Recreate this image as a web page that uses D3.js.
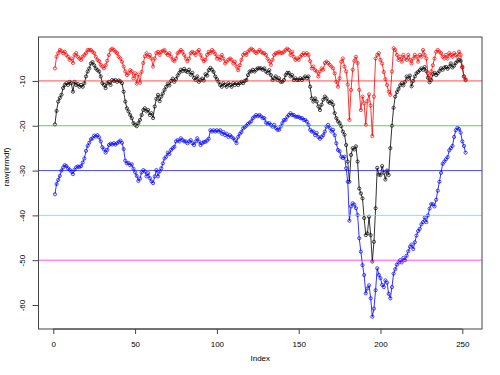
<!DOCTYPE html>
<meta charset="utf-8">
<style>
body{ margin: 0px; background: white; }
svg{ display: block; }
text{ font-family: "Liberation Sans", Arial, sans-serif; font-size: 8px; fill: #000; }
.box{ fill: none; stroke: #444; stroke-width: 1; }
.axis path, .axis line{ stroke: #444; }
</style>
<body>
<div id='chart'></div>
<script src="https://cdn.jsdelivr.net/npm/d3@7"></script>
<script>

var blackSeries = [
  -19.7, -16.7, -14.6, -13.8, -13.1, -11.6, -10.9, -10.5, -10.9, -10.2,
  -10.5, -12.4, -10.2, -10.9, -10.7, -11.3, -10.9, -11.3, -10.5, -9.0,
  -7.9, -7.2, -6.1, -5.8, -6.5, -7.2, -7.6, -7.9, -9.0, -10.5,
  -10.9, -11.6, -10.5, -10.2, -10.9, -9.8, -10.0, -9.8, -10.2, -9.9,
  -10.1, -10.5, -12.4, -14.6, -16.1, -16.8, -17.6, -18.3, -19.4, -19.8,
  -20.1, -19.4, -18.7, -17.6, -16.5, -16.1, -16.8, -16.5, -17.6, -17.2,
  -18.3, -15.7, -14.0, -13.1, -14.5, -13.5, -12.8, -12.0, -11.3, -10.6,
  -11.0, -10.0, -9.5, -10.2, -9.6, -8.8, -8.2, -7.5, -7.8, -7.3,
  -7.8, -8.0, -7.5, -8.6, -8.2, -9.3, -9.8, -9.0, -10.2, -9.8,
  -9.5, -9.9, -8.5, -8.8, -7.6, -7.1, -7.5, -8.0, -9.0, -9.6,
  -10.2, -10.9, -11.3, -10.5, -10.9, -11.3, -10.5, -10.9, -11.3, -10.5,
  -10.9, -10.5, -10.9, -10.5, -10.2, -10.5, -10.0, -9.8, -8.7, -7.9,
  -7.9, -7.5, -7.9, -7.5, -7.2, -7.2, -7.2, -7.5, -7.2, -7.9,
  -8.2, -7.6, -8.7, -9.8, -9.4, -9.0, -9.8, -9.4, -10.2, -10.2,
  -9.8, -8.7, -8.2, -8.2, -9.0, -8.7, -9.8, -9.4, -9.8, -9.8,
  -9.4, -9.8, -9.4, -9.0, -9.4, -9.0, -11.3, -13.9, -14.6, -13.9,
  -14.6, -15.7, -16.5, -15.3, -14.2, -13.5, -13.9, -14.6, -14.9, -14.6,
  -15.3, -17.2, -18.3, -19.0, -19.4, -20.1, -21.3, -22.0, -24.3, -28.0,
  -32.5, -26.5, -25.0, -25.3, -24.6, -28.0, -34.0, -35.1, -36.2, -40.6,
  -44.4, -44.0, -40.3, -44.4, -50.3, -45.9, -38.4, -29.4, -30.9, -31.0,
  -29.0, -30.5, -32.0, -30.0, -31.0, -25.0, -20.0, -16.0, -13.5, -12.5,
  -11.8, -11.0, -10.5, -11.0, -10.2, -9.0, -9.5, -8.8, -11.2, -10.0,
  -9.0, -8.3, -8.0, -7.6, -7.2, -7.5, -6.9, -7.8, -9.3, -10.3,
  -9.8, -8.5, -8.2, -8.7, -8.3, -7.8, -7.2, -7.5, -7.0, -6.9,
  -7.3, -6.8, -6.1, -7.0, -6.6, -6.0, -5.6, -5.3, -5.5, -7.0,
  -9.0, -9.8
]

var redSeries = [
  -7.2, -4.6, -3.8, -3.1, -3.3, -3.8, -3.5, -4.2, -4.6, -5.3,
  -5.0, -6.0, -4.2, -3.8, -4.6, -5.0, -5.3, -4.6, -4.2, -3.8,
  -3.1, -3.1, -3.1, -3.5, -3.8, -4.6, -5.3, -5.6, -6.4, -6.8,
  -7.2, -6.5, -5.5, -4.2, -3.1, -2.8, -3.1, -3.5, -3.8, -4.6,
  -5.0, -5.7, -6.8, -7.9, -8.7, -8.3, -7.6, -7.9, -9.4, -8.3,
  -10.6, -8.6, -10.4, -8.0, -6.0, -4.5, -3.8, -4.6, -4.2, -5.0,
  -6.8, -5.0, -3.8, -3.5, -4.2, -3.5, -3.3, -3.1, -3.8, -4.2,
  -3.8, -4.6, -5.3, -5.6, -5.0, -3.8, -3.5, -3.1, -3.5, -4.2,
  -5.0, -5.6, -5.0, -3.8, -3.5, -3.8, -4.2, -3.5, -3.1, -4.2,
  -5.0, -5.6, -5.3, -4.2, -3.5, -3.8, -3.1, -3.5, -4.0, -5.0,
  -4.6, -5.3, -4.2, -5.0, -6.1, -5.7, -5.3, -5.0, -5.3, -6.1,
  -5.7, -6.8, -7.6, -6.5, -5.3, -4.2, -3.8, -4.2, -3.5, -3.1,
  -2.8, -3.1, -3.5, -3.8, -3.5, -3.1, -3.5, -3.8, -3.8, -4.2,
  -5.0, -5.6, -6.4, -5.3, -4.2, -3.8, -3.8, -3.5, -3.8, -3.8,
  -3.5, -3.1, -2.8, -3.1, -4.2, -3.5, -4.6, -5.3, -5.0, -5.3,
  -4.6, -4.2, -3.8, -4.2, -3.8, -4.2, -5.6, -7.2, -6.8, -7.6,
  -7.9, -9.0, -7.9, -7.2, -7.5, -6.0, -5.7, -6.0, -6.4, -6.8,
  -7.2, -8.3, -10.2, -11.3, -9.4, -5.7, -5.0, -6.8, -7.9, -10.8,
  -18.7, -12.0, -7.5, -5.5, -4.6, -6.0, -12.0, -16.5, -13.5, -15.0,
  -19.8, -14.5, -13.0, -15.5, -22.3, -13.5, -5.0, -4.2, -3.8, -5.3,
  -6.1, -8.0, -9.6, -10.9, -12.4, -13.1, -7.9, -2.7, -3.1, -4.2,
  -5.3, -4.6, -5.7, -4.2, -5.0, -5.3, -4.2, -5.3, -6.1, -5.0,
  -4.2, -4.6, -5.7, -4.2, -4.6, -3.1, -4.2, -5.0, -8.3, -9.4,
  -7.9, -6.5, -5.0, -3.5, -3.1, -3.5, -3.8, -4.6, -5.0, -4.2,
  -5.0, -3.8, -4.2, -4.6, -3.8, -4.2, -4.6, -3.5, -4.2, -6.8,
  -9.0, -9.6
]

var blueSeries = [
  -35.3, -33.0, -32.1, -31.2, -30.0, -29.3, -28.8, -29.0, -29.5, -29.8,
  -30.2, -30.8, -29.8, -29.3, -29.1, -29.2, -29.0, -28.2, -27.3, -25.6,
  -24.5, -23.8, -23.0, -22.8, -22.2, -22.4, -22.1, -22.6, -23.5, -24.8,
  -25.3, -26.0, -25.4, -24.3, -24.0, -24.2, -23.9, -24.2, -23.9, -23.6,
  -23.3, -23.8, -25.2, -27.8, -28.4, -28.3, -28.8, -28.6, -29.6, -30.4,
  -31.2, -32.3, -31.8, -30.4, -29.9, -30.2, -31.3, -30.6, -31.7, -32.4,
  -32.8, -31.3, -29.9, -31.3, -30.2, -29.5, -28.4, -27.3, -26.9, -26.0,
  -26.3, -25.4, -25.0, -24.7, -23.5, -23.2, -23.5, -22.8, -23.2, -23.5,
  -23.5, -23.9, -23.5, -23.2, -23.9, -24.3, -23.5, -22.8, -23.5, -24.3,
  -23.9, -23.6, -23.6, -23.3, -22.9, -21.0, -21.3, -21.0, -21.3, -21.0,
  -21.3, -21.0, -21.8, -21.4, -22.1, -21.8, -22.5, -22.1, -22.5, -22.8,
  -23.2, -23.9, -22.5, -21.8, -21.4, -20.6, -20.3, -20.0, -19.6, -19.3,
  -19.0, -18.3, -18.0, -17.6, -17.9, -17.6, -17.9, -18.3, -18.3, -19.3,
  -19.6, -19.4, -19.8, -20.2, -19.8, -20.5, -20.9, -20.9, -20.2, -19.4,
  -18.7, -18.7, -18.0, -17.6, -17.2, -17.6, -17.6, -18.0, -18.0, -18.0,
  -18.3, -18.3, -18.7, -18.7, -19.1, -19.8, -20.9, -21.3, -21.3, -22.1,
  -21.6, -22.5, -22.9, -22.5, -22.1, -21.3, -20.2, -19.8, -20.5, -21.3,
  -20.9, -22.1, -23.9, -25.4, -25.7, -26.9, -27.2, -26.9, -29.5, -32.5,
  -41.2, -38.0, -37.3, -37.6, -38.4, -39.9, -45.1, -48.1, -51.1, -53.3,
  -57.4, -56.3, -55.6, -58.5, -62.6, -60.8, -56.7, -51.8, -53.3, -54.0,
  -55.5, -56.0, -54.5, -55.0, -57.5, -58.5, -56.0, -53.0, -52.0, -51.0,
  -50.5, -50.0, -50.5, -49.5, -50.0, -49.0, -48.0, -47.0, -46.5, -47.5,
  -46.0, -44.5, -43.5, -43.0, -42.0, -41.5, -40.5, -41.5, -40.0, -38.5,
  -37.5, -37.5, -38.0, -36.5, -34.5, -32.5, -30.5, -28.5, -28.0, -27.5,
  -27.0, -25.5, -25.0, -24.5, -22.5, -21.0, -20.5, -20.7, -21.5, -23.5,
  -24.5, -26.0
]

var refLevels = [-10, -20, -30, -40, -50]
var refColors = ['#ff0000', '#00cd00', '#0000ff', '#00ffff', '#ff00ff']
var xTicks = [0, 50, 100, 150, 200, 250]
var yTicks = [-60, -50, -40, -30, -20, -10]

var width = 500,
    height = 375,
    plotL = 38.5, plotR = 482,
    plotT = 37, plotB = 329

var x = d3.scaleLinear().domain([-9.04, 262.04]).range([plotL, plotR])
var y = d3.scaleLinear().domain([-65.35, -0.2]).range([plotB, plotT])

var svg = d3.select('#chart').append('svg')
    .attr('width', width)
    .attr('height', height)

svg.append('rect').attr('width', width).attr('height', height).style('fill', 'white')

var line = d3.line()
    .x(function(d, i){ return x(i + 1) })
    .y(function(d){ return y(d) })

var series = [
  {values: blackSeries, color: 'black'},
  {values: redSeries, color: '#ff0000'},
  {values: blueSeries, color: '#0000ff'}
]

series.forEach(function(s){
  svg.append('path')
      .datum(s.values)
      .attr('d', line)
      .style('fill', 'none')
      .style('stroke', s.color)
      .style('stroke-width', 0.8)

  svg.append('g').selectAll('circle')
      .data(s.values)
    .enter().append('circle')
      .attr('cx', function(d, i){ return x(i + 1) })
      .attr('cy', function(d){ return y(d) })
      .attr('r', 1.6)
      .style('fill', 'none')
      .style('stroke', s.color)
      .style('stroke-width', 0.7)
})

svg.append('g').selectAll('line')
    .data(refLevels)
  .enter().append('line')
    .attr('x1', plotL).attr('x2', plotR)
    .attr('y1', function(d){ return y(d) })
    .attr('y2', function(d){ return y(d) })
    .style('stroke', function(d, i){ return refColors[i] })
    .style('stroke-opacity', 0.7)
    .style('stroke-width', 1)

svg.append('rect')
    .attr('class', 'box')
    .attr('x', plotL).attr('y', plotT)
    .attr('width', plotR - plotL).attr('height', plotB - plotT)

var xAxis = svg.append('g')
    .attr('class', 'axis')
    .attr('transform', 'translate(0,' + plotB + ')')
    .call(d3.axisBottom(x).tickValues(xTicks).tickSize(5).tickPadding(7))
xAxis.select('.domain').attr('d', 'M' + x(0) + ',0H' + x(250))
xAxis.selectAll('text').style('font-size', '8px').style('fill', '#000')

var yAxis = svg.append('g')
    .attr('class', 'axis')
    .attr('transform', 'translate(' + plotL + ',0)')
    .call(d3.axisLeft(y).tickValues(yTicks).tickSize(6).tickFormat(function(d){ return String(d) }))
yAxis.select('.domain').attr('d', 'M0,' + y(-60) + 'V' + y(-10))
yAxis.selectAll('text')
    .attr('x', 0).attr('y', 0).attr('dy', null)
    .attr('text-anchor', 'middle')
    .attr('transform', 'translate(-14,0) rotate(-90)')
    .style('font-size', '8px').style('fill', '#000')

svg.append('text')
    .attr('x', (plotL + plotR) / 2)
    .attr('y', 361)
    .attr('text-anchor', 'middle')
    .text('Index')

svg.append('text')
    .attr('transform', 'translate(9,167) rotate(-90)')
    .attr('text-anchor', 'middle')
    .text('raw(irrmdf)')

</script>
